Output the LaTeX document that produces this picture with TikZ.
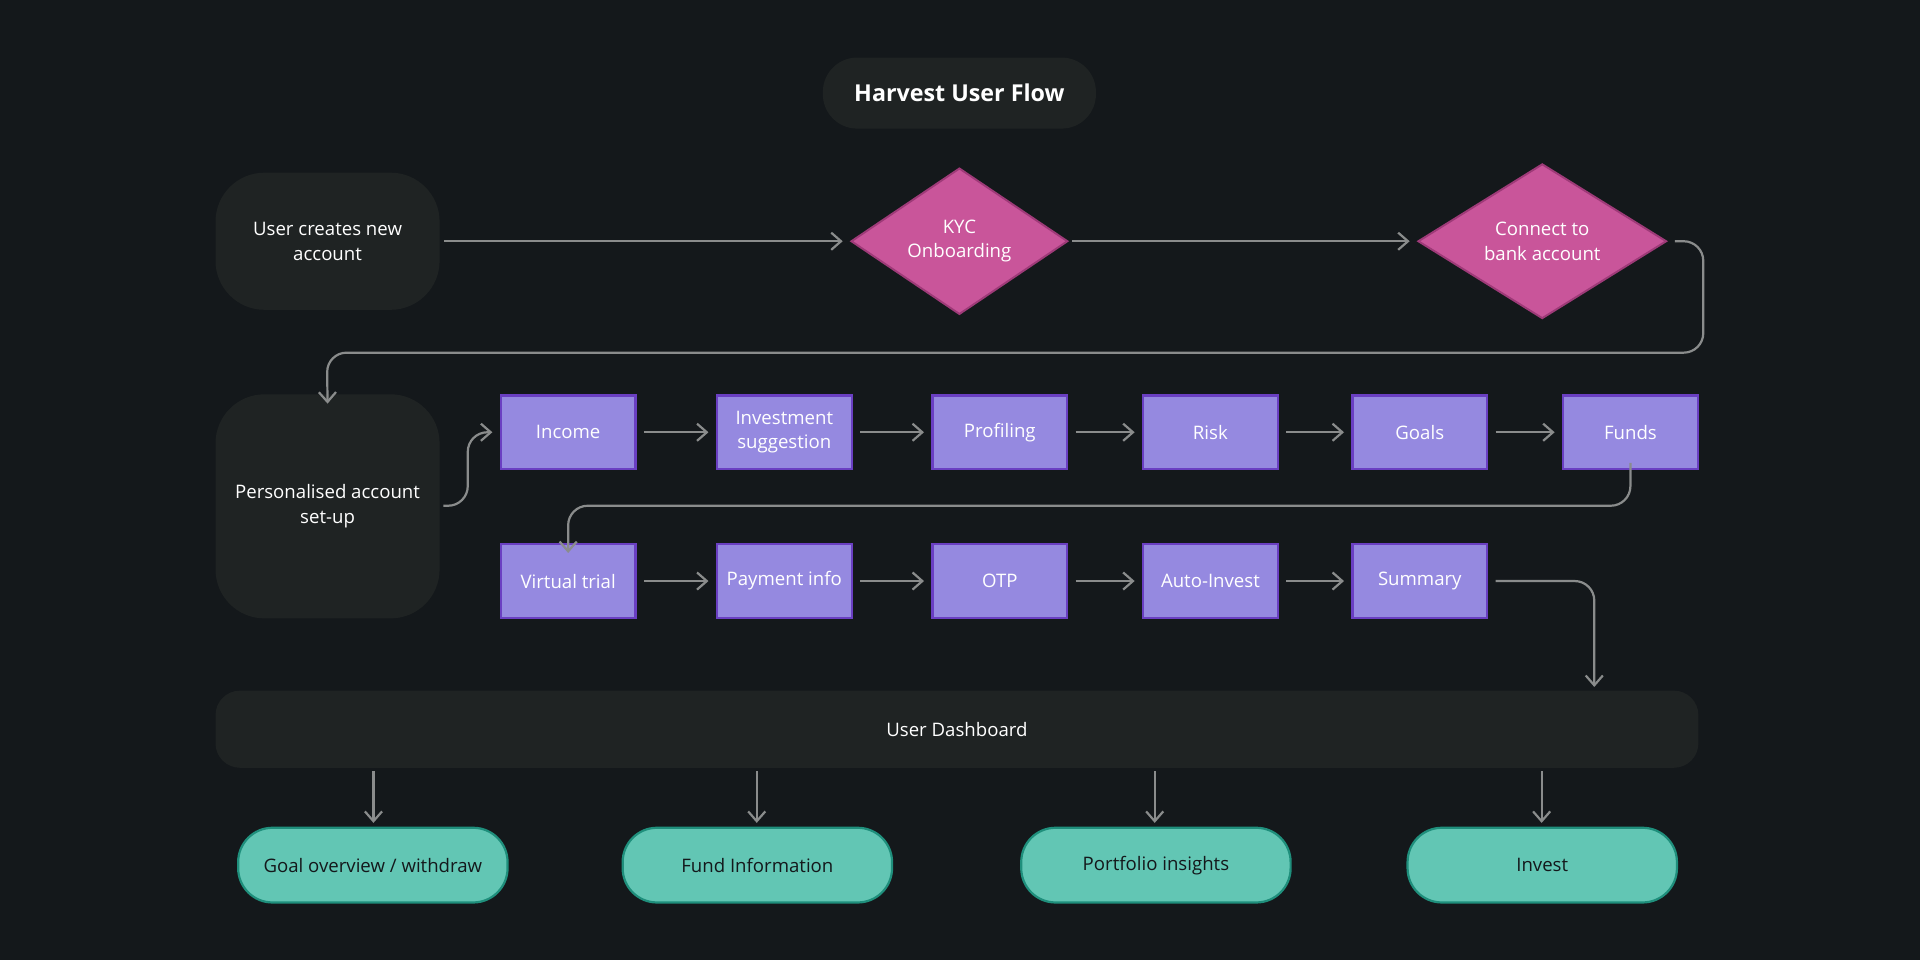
\documentclass[tikz,border=0pt]{standalone}
\usepackage{fontspec}
\setmainfont{Open Sans}
\usetikzlibrary{shapes.geometric,arrows.meta}
\definecolor{bg}{HTML}{14181B}
\definecolor{card}{HTML}{1F2323}
\definecolor{pinkf}{HTML}{C9559A}
\definecolor{pinkd}{HTML}{9E3A78}
\definecolor{purf}{HTML}{9589E0}
\definecolor{purd}{HTML}{6A3FC2}
\definecolor{grf}{HTML}{62C6B4}
\definecolor{grd}{HTML}{1F8F7C}
\definecolor{arr}{HTML}{8A8C8C}
\begin{document}
\begin{tikzpicture}[x=0.5pt,y=-0.5pt,font=\fontsize{7.6}{10}\selectfont,
 card/.style={fill=card,draw=none,text=white,align=center,rounded corners=20pt},
 dia/.style={diamond,fill=pinkf,draw=pinkd,line width=0.8pt,text=white,align=center,minimum width=88.5pt,minimum height=56pt,inner sep=0pt},
 box/.style={rectangle,fill=purf,draw=purd,line width=0.9pt,text=white,align=center,minimum width=55pt,minimum height=30pt,inner sep=1pt},
 pill/.style={rectangle,rounded corners=14pt,fill=grf,draw=grd,line width=0.9pt,text=bg,minimum width=110pt,minimum height=30.5pt},
 ar/.style={draw=arr,line width=0.9pt,-{Straight Barb[length=4pt,width=7pt]},rounded corners=8pt}]
\fill[bg] (0,0) rectangle (1568,784);
\node[card,rounded corners=14pt,minimum width=111.5pt,minimum height=29pt,font=\fontsize{9.5}{12}\selectfont\bfseries] (t) at (783.5,76) {Harvest User Flow};
\node[card,minimum width=91.5pt,minimum height=56pt] (u) at (267.5,197) {User creates new\\account};
\node[dia] (k) at (783.5,197) {KYC\\Onboarding};
\node[dia,minimum width=101.5pt] (c) at (1259.5,197) {Connect to\\bank account};
\node[card,minimum width=91.5pt,minimum height=91.5pt] (p) at (267.5,413.5) {Personalised account\\set-up};
\node[box] (b1) at (464,353) {Income};
\node[box] (b2) at (640.5,353) {Investment\\suggestion};
\node[box] (b3) at (816.5,353) {Profiling};
\node[box] (b4) at (988.5,353) {Risk};
\node[box] (b5) at (1159.5,353) {Goals};
\node[box] (b6) at (1331.5,353) {Funds};
\node[box] (r1) at (464,474.5) {Virtual trial};
\node[box] (r2) at (640.5,474.5) {Payment info};
\node[box] (r3) at (816.5,474.5) {OTP};
\node[box] (r4) at (988.5,474.5) {Auto-Invest};
\node[box] (r5) at (1159.5,474.5) {Summary};
\node[card,rounded corners=10pt,minimum width=605.5pt,minimum height=31.5pt] (d) at (781.5,595.5) {User Dashboard};
\node[pill] (g1) at (304.5,706.5) {Goal overview / withdraw};
\node[pill] (g2) at (618.5,706.5) {Fund Information};
\node[pill] (g3) at (944,706.5) {Portfolio insights};
\node[pill] (g4) at (1259.5,706.5) {Invest};
\draw[ar] (u.east)++(3,0) -- ([xshift=-3]k.west);
\draw[ar] (k.east)++(3,0) -- ([xshift=-3]c.west);
\draw[ar] ([xshift=3]c.east) -- (1391,197) -- (1391,288) -- (267,288) -- ([yshift=-4]p.north);
\draw[ar] (362,413) -- (382,413) -- (382,353) -- ([xshift=-3]b1.west);
\foreach \a/\b in {b1/b2,b2/b3,b3/b4,b4/b5,b5/b6,r1/r2,r2/r3,r3/r4,r4/r5}
 \draw[ar] ([xshift=3]\a.east) -- ([xshift=-3]\b.west);
\draw[ar] ([yshift=3]b6.south) -- (1331.5,413) -- (464,413) -- ([yshift=-4]r1.north);
\draw[ar] ([xshift=3]r5.east) -- (1302,474.5) -- (1302,561);
\foreach \x/\g in {305/g1,618/g2,943/g3,1259/g4}
 \draw[ar] (\x,630) -- (\x,672);
\end{tikzpicture}
\end{document}
